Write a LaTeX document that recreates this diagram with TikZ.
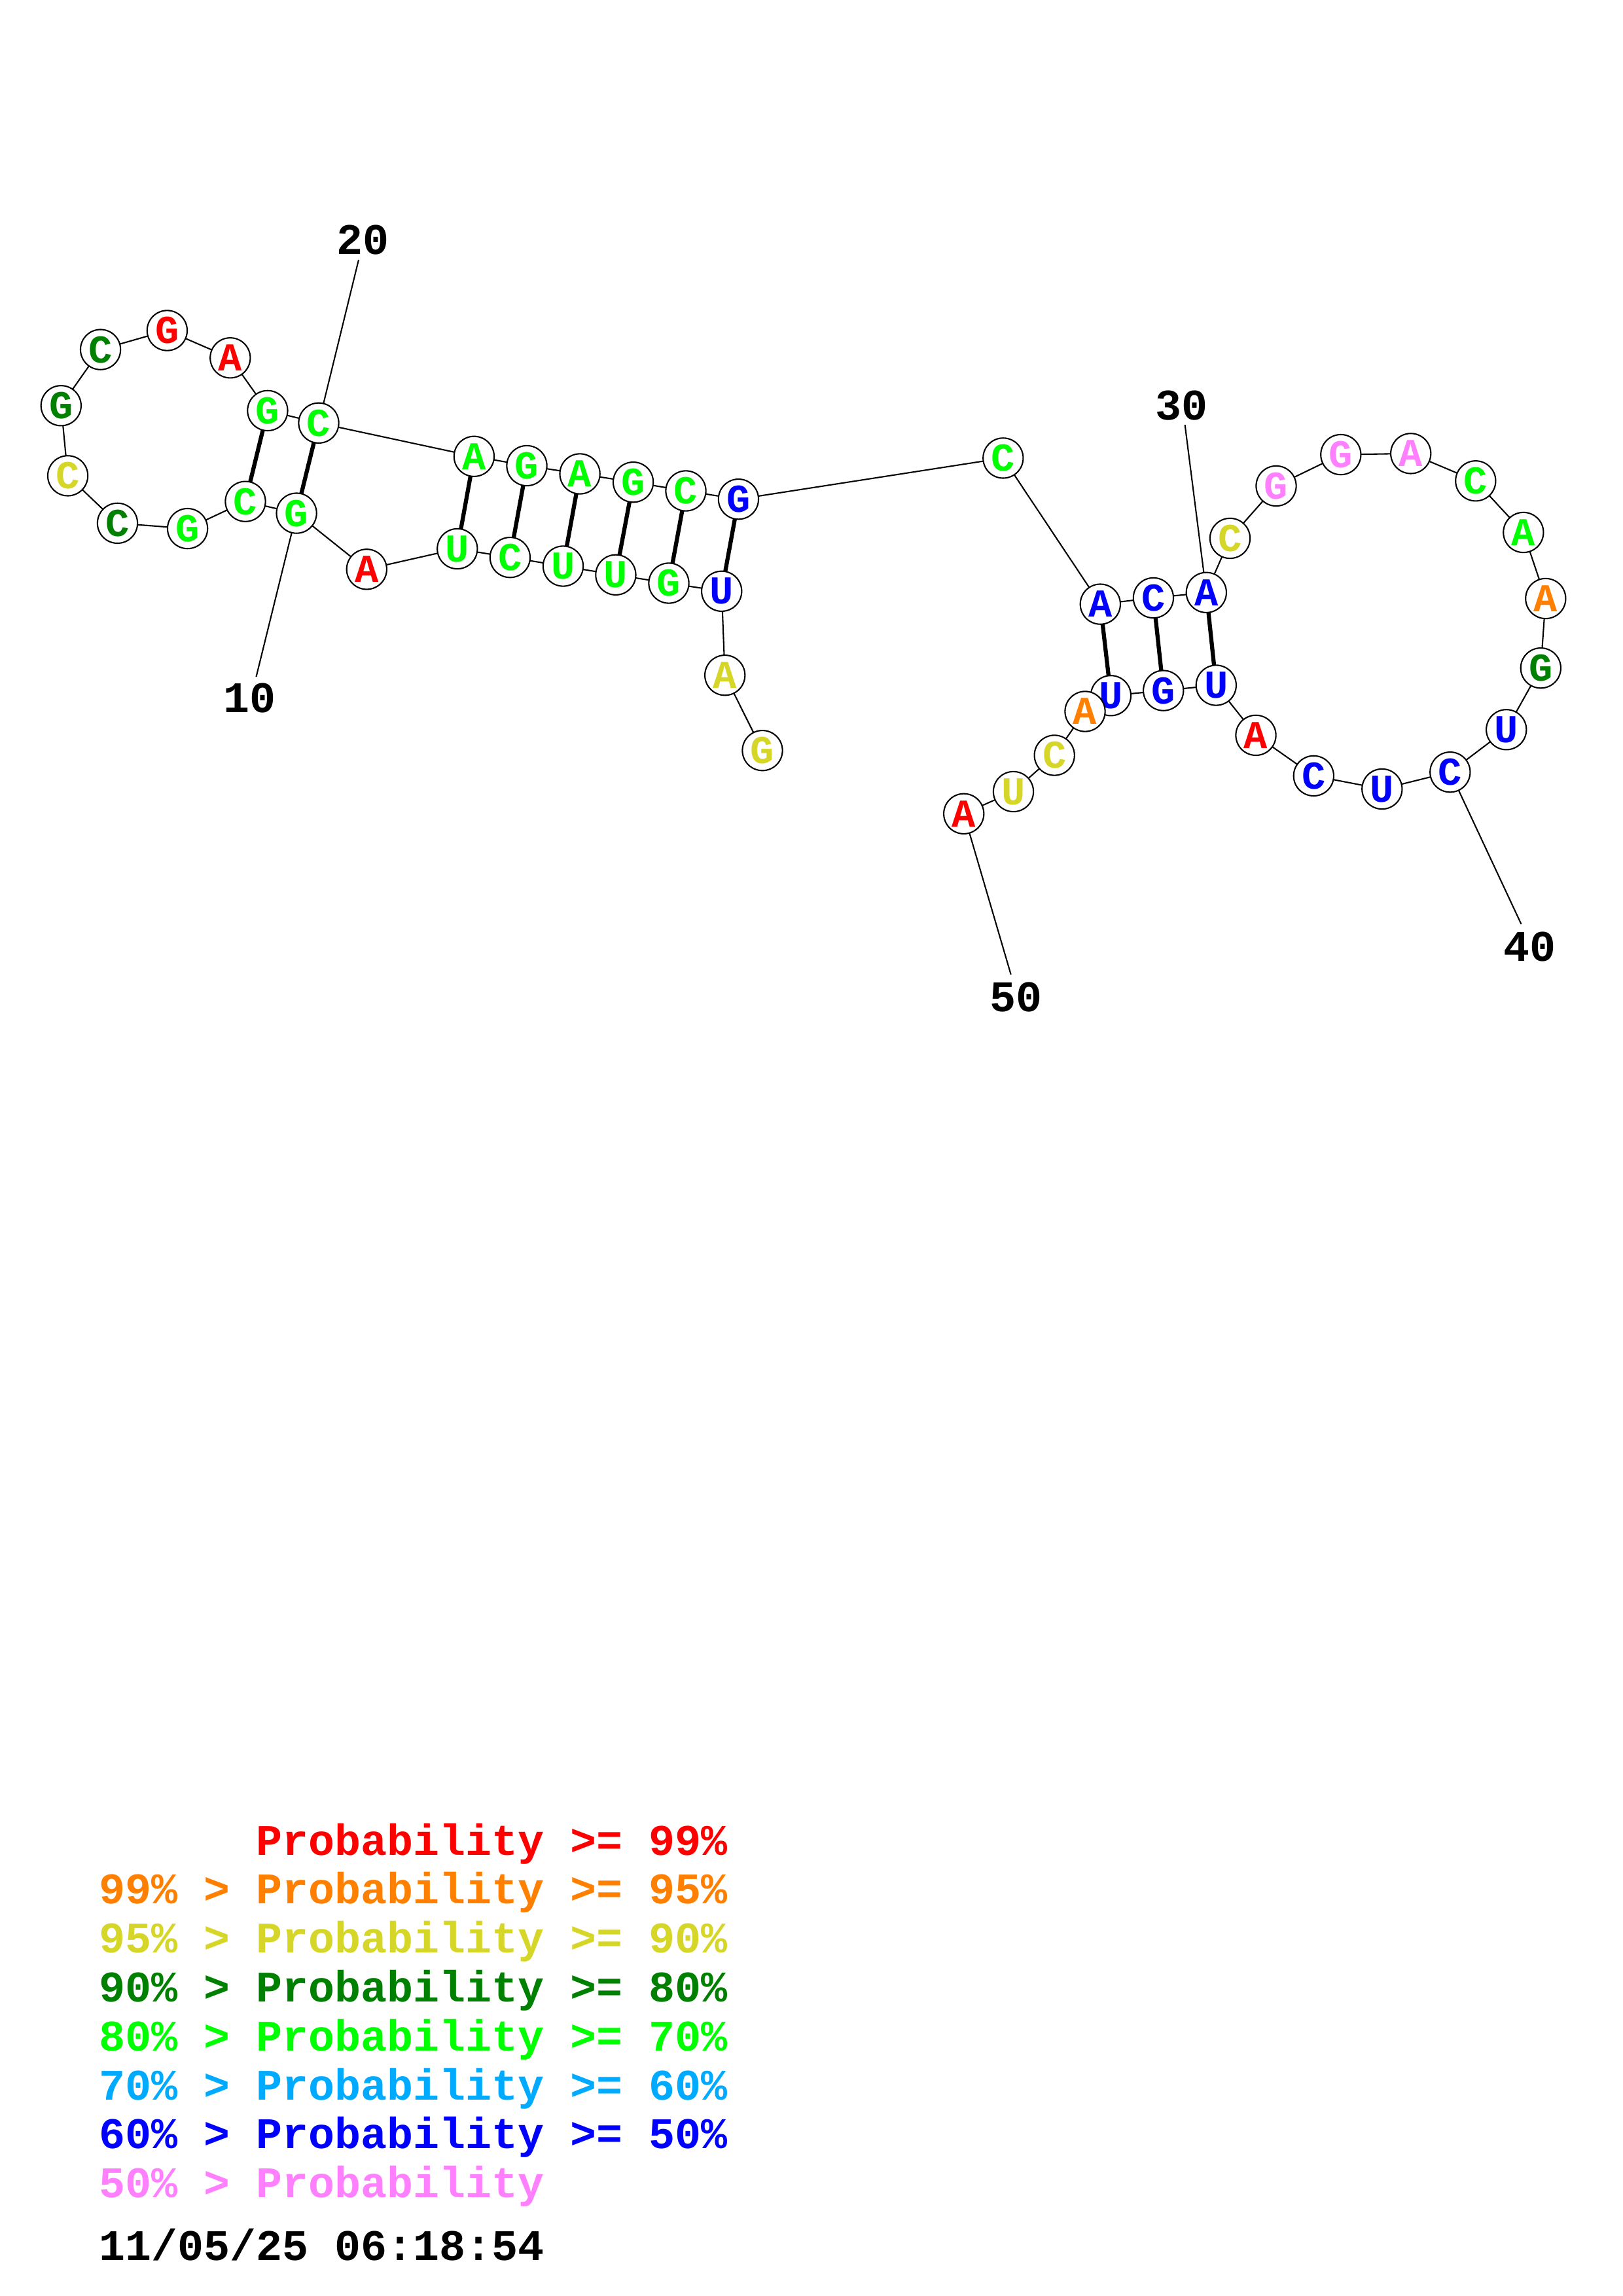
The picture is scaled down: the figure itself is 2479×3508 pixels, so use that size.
\documentclass[tikz,border=0pt]{standalone}
\usepackage{fontspec}
\setmonofont{Liberation Mono}
\usetikzlibrary{backgrounds}
\definecolor{pr99}{RGB}{255,0,0}
\definecolor{pr95}{RGB}{255,128,0}
\definecolor{pr90}{RGB}{214,214,41}
\definecolor{pr80}{RGB}{0,128,0}
\definecolor{pr70}{RGB}{0,255,0}
\definecolor{pr60}{RGB}{0,170,255}
\definecolor{pr50}{RGB}{0,0,255}
\definecolor{prlow}{RGB}{255,128,255}
\tikzset{
  nt/.style={circle, draw=black, line width=0.5pt, fill=white, minimum size=14.7pt, inner sep=0pt,
    font=\ttfamily\bfseries\fontsize{14.5}{14.5}\selectfont},
  bb/.style={draw=black, line width=0.5pt},
  bp/.style={draw=black, line width=1.5pt},
  lbl/.style={inner sep=0pt, font=\ttfamily\bfseries\fontsize{16}{16}\selectfont},
  leg/.style={anchor=base west, inner sep=0pt, font=\ttfamily\bfseries\fontsize{16}{16}\selectfont}
}
\begin{document}
\begin{tikzpicture}[x=0.24pt, y=-0.24pt]
\useasboundingbox (0,0) rectangle (2479,3508);
% nucleotides
\node[nt, text=pr90] (n1) at (1165,1146.7) {G};
\node[nt, text=pr90] (n2) at (1107.7,1031.7) {A};
\node[nt, text=pr50] (n3) at (1102.7,903.3) {U};
\node[nt, text=pr70] (n4) at (1022,891) {G};
\node[nt, text=pr70] (n5) at (940.9,878.3) {U};
\node[nt, text=pr70] (n6) at (860.5,865) {U};
\node[nt, text=pr70] (n7) at (779.4,851.7) {C};
\node[nt, text=pr70] (n8) at (698.8,838.5) {U};
\node[nt, text=pr99] (n9) at (560.3,869.8) {A};
\node[nt, text=pr70] (n10) at (453.1,784.1) {G};
\node[nt, text=pr70] (n11) at (375,766.2) {C};
\node[nt, text=pr70] (n12) at (286.6,807.6) {G};
\node[nt, text=pr80] (n13) at (179.5,799.4) {C};
\node[nt, text=pr90] (n14) at (103.6,726.9) {C};
\node[nt, text=pr80] (n15) at (93.3,619.8) {G};
\node[nt, text=pr80] (n16) at (153.6,534.1) {C};
\node[nt, text=pr99] (n17) at (255.4,505) {G};
\node[nt, text=pr99] (n18) at (351.8,546.8) {A};
\node[nt, text=pr70] (n19) at (408.9,627.4) {G};
\node[nt, text=pr70] (n20) at (487,646.3) {C};
\node[nt, text=pr70] (n21) at (724.4,697.3) {A};
\node[nt, text=pr70] (n22) at (805,711.5) {G};
\node[nt, text=pr70] (n23) at (886.1,724) {A};
\node[nt, text=pr70] (n24) at (967.6,736.7) {G};
\node[nt, text=pr70] (n25) at (1048,750) {C};
\node[nt, text=pr50] (n26) at (1128.4,762.7) {G};
\node[nt, text=pr70] (n27) at (1532.8,699.9) {C};
\node[nt, text=pr50] (n28) at (1681.3,923.1) {A};
\node[nt, text=pr50] (n29) at (1762.4,913.5) {C};
\node[nt, text=pr50] (n30) at (1843.3,905.3) {A};
\node[nt, text=pr90] (n31) at (1879.5,822.5) {C};
\node[nt, text=prlow] (n32) at (1950,742.5) {G};
\node[nt, text=prlow] (n33) at (2048.8,694.6) {G};
\node[nt, text=prlow] (n34) at (2155.7,692.9) {A};
\node[nt, text=pr70] (n35) at (2254.8,734.8) {C};
\node[nt, text=pr70] (n36) at (2327.8,813.5) {A};
\node[nt, text=pr95] (n37) at (2361.8,914.5) {A};
\node[nt, text=pr80] (n38) at (2354.3,1020.7) {G};
\node[nt, text=pr50] (n39) at (2301.7,1114.8) {U};
\node[nt, text=pr50] (n40) at (2215.8,1179.7) {C};
\node[nt, text=pr50] (n41) at (2111.8,1205.5) {U};
\node[nt, text=pr50] (n42) at (2007.3,1185.4) {C};
\node[nt, text=pr99] (n43) at (1919,1123.4) {A};
\node[nt, text=pr50] (n44) at (1858.3,1047) {U};
\node[nt, text=pr50] (n45) at (1777.7,1055.1) {G};
\node[nt, text=pr50] (n46) at (1697.4,1062.8) {U};
\node[nt, text=pr95] (n47) at (1658,1087) {A};
\node[nt, text=pr90] (n48) at (1611.2,1154) {C};
\node[nt, text=pr90] (n49) at (1548.5,1209.5) {U};
\node[nt, text=pr99] (n50) at (1472.7,1243.3) {A};
% position labels
\node[lbl] (t10) at (381,1067) {10};
\node[lbl] (t20) at (554.5,366.7) {20};
\node[lbl] (t30) at (1805,619.5) {30};
\node[lbl] (t40) at (2337,1446.6) {40};
\node[lbl] (t50) at (1552.3,1524) {50};
\coordinate (e10) at (391.5,1034);
\coordinate (e20) at (548,397);
\coordinate (e30) at (1810.6,649);
\coordinate (e40) at (2324.5,1412);
\coordinate (e50) at (1544.7,1489);
\begin{scope}[on background layer]
  \foreach \i [evaluate=\i as \j using int(\i+1)] in {1,...,49} {
    \draw[bb] (n\i.center) -- (n\j.center);
  }
  \foreach \a/\b in {11/19,10/20,8/21,7/22,6/23,5/24,4/25,3/26,28/46,29/45,30/44} {
    \draw[bp] (n\a.center) -- (n\b.center);
  }
  \foreach \k in {10,20,30,40,50} {
    \draw[bb] (n\k.center) -- (e\k);
  }
\end{scope}
% legend
\node[leg, text=pr99] (g1) at (151,2834) {\phantom{99\%~>~}Probability~>=~99\%};
\node[leg, text=pr95] (g2) at (151,2908.8) {99\%~>~Probability~>=~95\%};
\node[leg, text=pr90] (g3) at (151,2983.6) {95\%~>~Probability~>=~90\%};
\node[leg, text=pr80] (g4) at (151,3058.4) {90\%~>~Probability~>=~80\%};
\node[leg, text=pr70] (g5) at (151,3133.2) {80\%~>~Probability~>=~70\%};
\node[leg, text=pr60] (g6) at (151,3208) {70\%~>~Probability~>=~60\%};
\node[leg, text=pr50] (g7) at (151,3282.8) {60\%~>~Probability~>=~50\%};
\node[leg, text=prlow] (g8) at (151,3357.6) {50\%~>~Probability};
\node[leg, text=black] (g9) at (151,3453) {11/05/25~06:18:54};
\end{tikzpicture}
\end{document}
